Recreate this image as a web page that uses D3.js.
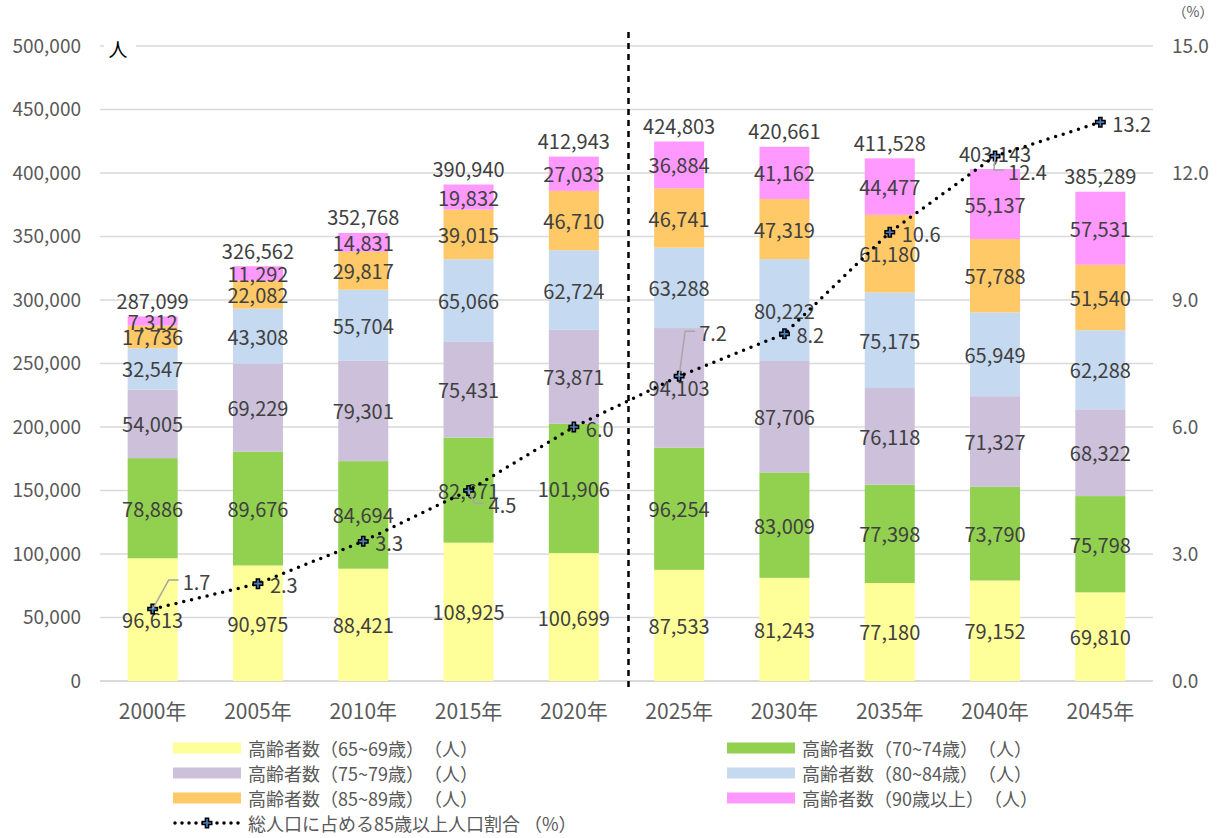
<!DOCTYPE html>
<html lang="ja">
<head>
<meta charset="UTF-8">
<title>高齢者数の推移</title>
<script src="https://d3js.org/d3.v7.min.js"></script>
<style>
    body { margin: 0; background: #fff; font-family: "Noto Sans CJK JP", "Noto Sans", sans-serif; }
    svg text { font-family: "Noto Sans CJK JP", "Noto Sans", sans-serif; }
</style>
</head>
<body>
<svg id="chart" width="1218" height="838"></svg>
<script>
// data
const years = ["2000年", "2005年", "2010年", "2015年", "2020年", "2025年", "2030年", "2035年", "2040年", "2045年"];
const age65to69 = [96613, 90975, 88421, 108925, 100699, 87533, 81243, 77180, 79152, 69810];
const age70to74 = [78886, 89676, 84694, 82671, 101906, 96254, 83009, 77398, 73790, 75798];
const age75to79 = [54005, 69229, 79301, 75431, 73871, 94103, 87706, 76118, 71327, 68322];
const age80to84 = [32547, 43308, 55704, 65066, 62724, 63288, 80222, 75175, 65949, 62288];
const age85to89 = [17736, 22082, 29817, 39015, 46710, 46741, 47319, 61180, 57788, 51540];
const age90plus = [7312, 11292, 14831, 19832, 27033, 36884, 41162, 44477, 55137, 57531];
const share85plus = [1.7, 2.3, 3.3, 4.5, 6.0, 7.2, 8.2, 10.6, 12.4, 13.2];
const leftTicks = [0, 50000, 100000, 150000, 200000, 250000, 300000, 350000, 400000, 450000, 500000];
const rightTicks = [0, 3, 6, 9, 12, 15];

const seriesNames = [
    "高齢者数（65~69歳）　（人）",
    "高齢者数（70~74歳）　（人）",
    "高齢者数（75~79歳）　（人）",
    "高齢者数（80~84歳）　（人）",
    "高齢者数（85~89歳）　（人）",
    "高齢者数（90歳以上）　（人）"
];
const lineName = "総人口に占める85歳以上人口割合 （%）";
const colors = ["#FFFF99", "#92D050", "#CCC0DA", "#C5D9F1", "#FFC967", "#FF99FF"];

const series = [age65to69, age70to74, age75to79, age80to84, age85to89, age90plus];

const svg = d3.select("#chart");
const plotL = 100, plotR = 1153, plotT = 46, plotB = 681;

const x = d3.scaleBand().domain(years).range([plotL, plotR])
    .paddingInner(0.525).paddingOuter(0.2625);
const y = d3.scaleLinear().domain([0, 500000]).range([plotB, plotT]);
const y2 = d3.scaleLinear().domain([0, 15]).range([plotB, plotT]);

// gridlines
svg.append("g")
    .selectAll("line")
    .data(leftTicks)
    .join("line")
    .attr("x1", plotL).attr("x2", plotR)
    .attr("y1", d => y(d)).attr("y2", d => y(d))
    .attr("stroke", "#d9d9d9")
    .attr("stroke-width", d => d === 0 ? 2 : 1.5);

// left axis
const yAxis = svg.append("g")
    .attr("transform", `translate(${plotL},0)`)
    .call(d3.axisLeft(y).tickValues(leftTicks).tickFormat(d3.format(",")).tickSize(0).tickPadding(19));
yAxis.select(".domain").remove();
yAxis.selectAll("text").attr("font-size", 19).attr("fill", "#595959");

// right axis
const y2Axis = svg.append("g")
    .attr("transform", `translate(${plotR},0)`)
    .call(d3.axisRight(y2).tickValues(rightTicks).tickFormat(d3.format(".1f")).tickSize(0).tickPadding(19));
y2Axis.select(".domain").remove();
y2Axis.selectAll("text").attr("font-size", 19).attr("fill", "#595959");

// x axis labels
const xAxis = svg.append("g")
    .attr("transform", `translate(0,${plotB})`)
    .call(d3.axisBottom(x).tickSize(0).tickPadding(23));
xAxis.select(".domain").remove();
xAxis.selectAll("text").attr("font-size", 21).attr("fill", "#595959");

// unit labels
svg.append("rect").attr("x", 104).attr("y", 38).attr("width", 32).attr("height", 24).attr("fill", "#fff");
svg.append("text").attr("x", 118).attr("y", 52).attr("text-anchor", "middle")
    .attr("dominant-baseline", "middle").attr("font-size", 19).attr("fill", "#000").text("人");
svg.append("text").attr("x", 1193).attr("y", 13).attr("text-anchor", "middle")
    .attr("dominant-baseline", "middle").attr("font-size", 14).attr("fill", "#595959").text("（%）");

// stacked bars
const rows = years.map((yr, i) => {
    const r = { year: yr };
    series.forEach((s, k) => { r["s" + k] = s[i]; });
    return r;
});
const keys = series.map((s, k) => "s" + k);
const stacked = d3.stack().keys(keys)(rows);

const barG = svg.append("g");
stacked.forEach((layer, k) => {
    barG.selectAll(".bar" + k)
        .data(layer)
        .join("rect")
        .attr("class", "bar" + k)
        .attr("x", d => x(d.data.year))
        .attr("width", x.bandwidth())
        .attr("y", d => y(d[1]))
        .attr("height", d => y(d[0]) - y(d[1]))
        .attr("fill", colors[k]);
});

// dashed divider between actual and projection
const divX = x(years[5]) - (x.step() - x.bandwidth()) / 2 + 2;
svg.append("line")
    .attr("x1", divX).attr("x2", divX)
    .attr("y1", 32).attr("y2", plotB + 6)
    .attr("stroke", "#000").attr("stroke-width", 2.5)
    .attr("stroke-dasharray", "6,5");

// segment labels
stacked.forEach(layer => {
    svg.append("g").selectAll("text")
        .data(layer)
        .join("text")
        .attr("x", d => x(d.data.year) + x.bandwidth() / 2)
        .attr("y", d => y((d[0] + d[1]) / 2))
        .attr("text-anchor", "middle")
        .attr("dominant-baseline", "central")
        .attr("font-size", 20)
        .attr("fill", "#404040")
        .text(d => d3.format(",")(d[1] - d[0]));
});

// total labels
const totals = stacked[stacked.length - 1];
svg.append("g").selectAll("text")
    .data(totals)
    .join("text")
    .attr("x", d => x(d.data.year) + x.bandwidth() / 2)
    .attr("y", d => y(d[1]) - 16)
    .attr("text-anchor", "middle")
    .attr("dominant-baseline", "central")
    .attr("font-size", 20)
    .attr("fill", "#404040")
    .text(d => d3.format(",")(d[1]));

// share line
const pts = years.map((yr, i) => ({ year: yr, v: share85plus[i] }));
const cx = d => x(d.year) + x.bandwidth() / 2;
svg.append("path")
    .datum(pts)
    .attr("fill", "none")
    .attr("stroke", "#000")
    .attr("stroke-width", 3.5)
    .attr("stroke-linecap", "round")
    .attr("stroke-dasharray", "0,8")
    .attr("d", d3.line().x(cx).y(d => y2(d.v)));

const marker = d3.symbol().type(d3.symbolCross).size(50);
svg.append("g").selectAll("path")
    .data(pts)
    .join("path")
    .attr("transform", d => `translate(${cx(d)},${y2(d.v)})`)
    .attr("d", marker)
    .attr("fill", "#4a7ebb")
    .attr("stroke", "#000")
    .attr("stroke-width", 1.5);

// share labels; some were moved off the point with a leader line
const labelShift = {
    "2000年": [30, -28],
    "2015年": [20, 14],
    "2025年": [20, -44],
    "2040年": [13, 15]
};
pts.forEach(d => {
    const px = cx(d), py = y2(d.v);
    const s = labelShift[d.year];
    let lx = px + 12, ly = py + 1;
    if (s) {
        lx = px + s[0]; ly = py + s[1];
        const ex = lx - 4;
        svg.append("polyline")
            .attr("points", `${px},${py} ${ex - 10},${ly - 1} ${ex},${ly - 1}`)
            .attr("fill", "none")
            .attr("stroke", "#a6a6a6")
            .attr("stroke-width", 1.5);
    }
    svg.append("text")
        .attr("x", lx).attr("y", ly)
        .attr("dominant-baseline", "central")
        .attr("font-size", 20)
        .attr("fill", "#404040")
        .text(d3.format(".1f")(d.v));
});

// legend
const legendItems = [
    { name: seriesNames[0], color: colors[0], col: 0, row: 0 },
    { name: seriesNames[1], color: colors[1], col: 1, row: 0 },
    { name: seriesNames[2], color: colors[2], col: 0, row: 1 },
    { name: seriesNames[3], color: colors[3], col: 1, row: 1 },
    { name: seriesNames[4], color: colors[4], col: 0, row: 2 },
    { name: seriesNames[5], color: colors[5], col: 1, row: 2 }
];
const colX = [173, 727];
const rowY = r => 748 + r * 25;
const legend = svg.append("g");
legendItems.forEach(it => {
    legend.append("rect")
        .attr("x", colX[it.col]).attr("y", rowY(it.row) - 5.5)
        .attr("width", 68).attr("height", 11)
        .attr("fill", it.color);
    legend.append("text")
        .attr("x", colX[it.col] + 75).attr("y", rowY(it.row))
        .attr("dominant-baseline", "central")
        .attr("font-size", 18).attr("fill", "#595959")
        .text(it.name);
});
const legY = rowY(3);
legend.append("line")
    .attr("x1", 175).attr("x2", 240).attr("y1", legY).attr("y2", legY)
    .attr("stroke", "#000").attr("stroke-width", 3.5)
    .attr("stroke-linecap", "round").attr("stroke-dasharray", "0,7");
legend.append("path")
    .attr("transform", `translate(207,${legY})`)
    .attr("d", marker)
    .attr("fill", "#4a7ebb").attr("stroke", "#000").attr("stroke-width", 1.5);
legend.append("text")
    .attr("x", 248).attr("y", legY)
    .attr("dominant-baseline", "central")
    .attr("font-size", 18).attr("fill", "#595959")
    .text(lineName);
</script>
</body>
</html>
